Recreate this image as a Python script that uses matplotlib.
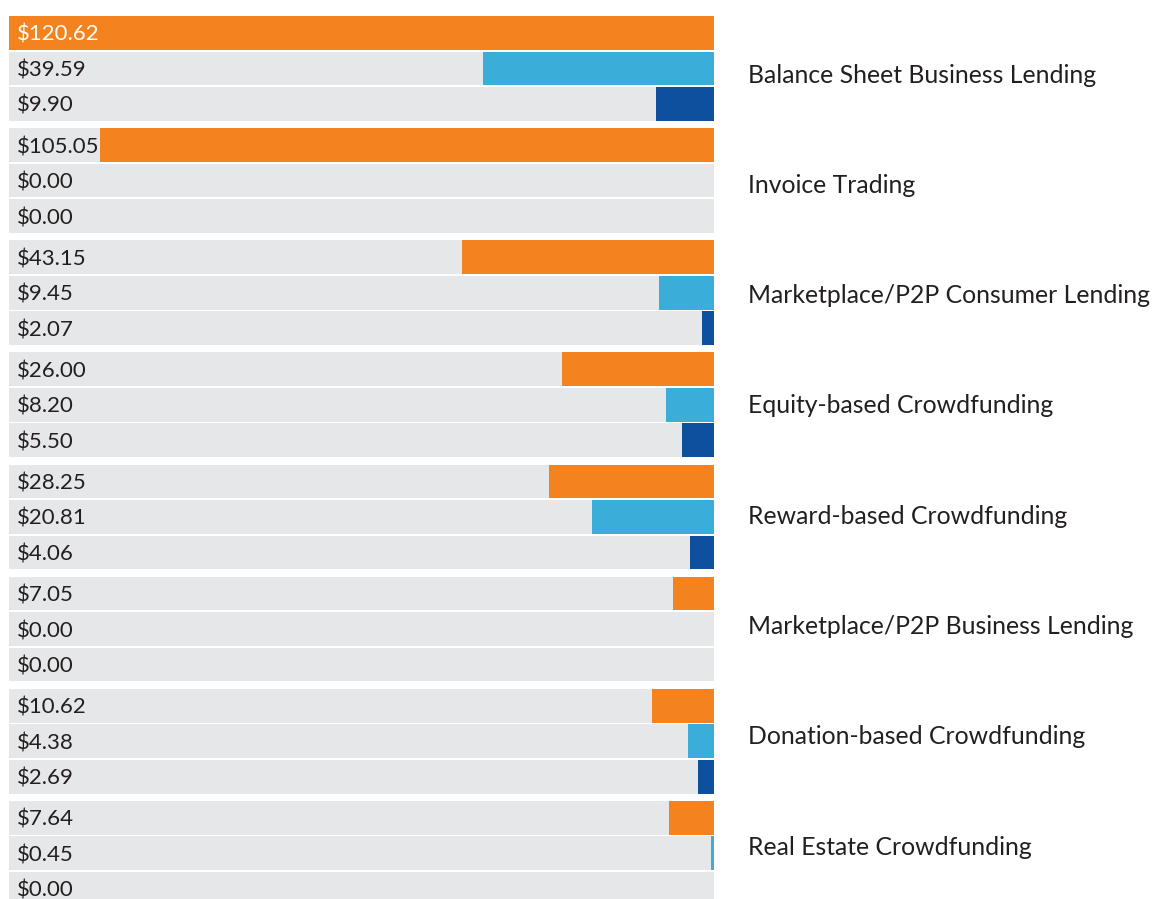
import matplotlib
matplotlib.use("Agg")
import matplotlib.pyplot as plt

categories = [
    "Balance Sheet Business Lending",
    "Invoice Trading",
    "Marketplace/P2P Consumer Lending",
    "Equity-based Crowdfunding",
    "Reward-based Crowdfunding",
    "Marketplace/P2P Business Lending",
    "Donation-based Crowdfunding",
    "Real Estate Crowdfunding",
]
series_a = [120.62, 105.05, 43.15, 26.00, 28.25, 7.05, 10.62, 7.64]   # orange
series_b = [39.59, 0.00, 9.45, 8.20, 20.81, 0.00, 4.38, 0.45]        # light blue
series_c = [9.90, 0.00, 2.07, 5.50, 4.06, 0.00, 2.69, 0.00]          # dark blue

colors = ["#F4831F", "#3AADD9", "#0E4F9E"]
gray = "#E6E7E8"
font = ["Lato", "DejaVu Sans"]
txt = "#231F20"

W, H = 1152, 899
fig = plt.figure(figsize=(W / 100, H / 100), dpi=100)
left_px, right_px = 9, 714
top_px = 16
unit = 35.5
group_pitch = 112.14 / unit
bar_h = 0.95
ytop = -bar_h / 2
ybot = ytop + (H - top_px) / unit

ax = fig.add_axes([left_px / W, 0, (right_px - left_px) / W, (H - top_px) / H])
xmax = max(series_a)
ax.set_xlim(xmax, 0)
ax.set_ylim(ybot, ytop)
ax.axis("off")

series = [series_a, series_b, series_c]
for g, cat in enumerate(categories):
    for j, s in enumerate(series):
        yc = g * group_pitch + j
        ax.barh(yc, xmax, height=bar_h, color=gray, left=0, zorder=1)
        v = s[g]
        if v > 0:
            ax.barh(yc, v, height=bar_h, color=colors[j], left=0, zorder=2)
        tcol = "white" if v >= 110 else txt
        ax.annotate(f"${v:.2f}", xy=(0, yc), xycoords=ax.get_yaxis_transform(),
                    xytext=(8, -2), textcoords="offset pixels",
                    ha="left", va="center", fontsize=16,
                    family=font, color=tcol, zorder=3)
    # category label, centred on its group
    lab_px = 75 + 110.3 * g
    ax.text((748 - left_px) / (right_px - left_px), ytop + (lab_px - top_px) / unit, cat,
            transform=ax.get_yaxis_transform(), ha="left", va="center",
            fontsize=17.8, family=font, color=txt, clip_on=False)

fig.savefig("out.png", dpi=100)
